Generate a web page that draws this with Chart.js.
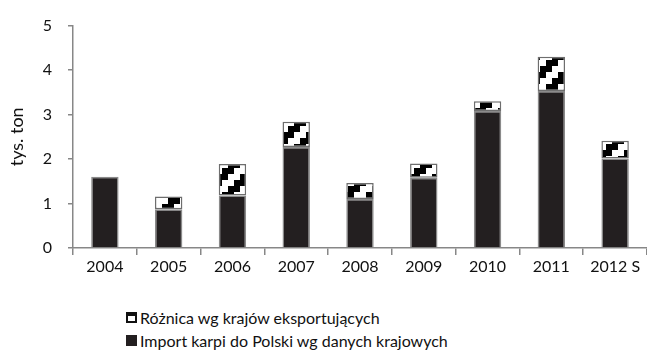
<!DOCTYPE html>
<html>
<head>
<meta charset="utf-8">
<script src="https://cdn.jsdelivr.net/npm/chart.js@4"></script>
<style>
  html, body { margin: 0; padding: 0; background: #fff; }
  body { width: 647px; height: 353px; overflow: hidden; font-family: Lato, "Open Sans", sans-serif; }
  #wrap { position: relative; width: 647px; height: 292px; }
  #legend { position: absolute; left: 126px; top: 306px; font-size: 16px; color: #111; line-height: 23px; }
  .item { display: flex; align-items: center; white-space: nowrap; }
  .box { width: 11px; height: 11px; box-sizing: border-box; margin-right: 3px; }
  .box.diff { border: 2px solid #111; border-top-width: 4px; background: #fff; }
  .box.imp { background: #231f20; }
</style>
</head>
<body>
<div id="wrap"><canvas id="c" width="647" height="292"></canvas></div>
<div id="legend">
  <div class="item"><span class="box diff"></span><span id="lab0"></span></div>
  <div class="item"><span class="box imp"></span><span id="lab1"></span></div>
</div>
<script>
// Years on the category axis
const years = ['2004', '2005', '2006', '2007', '2008', '2009', '2010', '2011', '2012 S'];
// Carp imports to Poland according to national data (thousand tonnes)
const importValues = [1.60, 0.87, 1.18, 2.27, 1.10, 1.58, 3.08, 3.53, 2.01];
// Extra amount reported by the exporting countries (thousand tonnes)
const diffValues = [null, 0.29, 0.71, 0.57, 0.36, 0.32, 0.22, 0.77, 0.40];
const seriesNames = ['Różnica wg krajów eksportujących', 'Import karpi do Polski wg danych krajowych'];
const yTicks = [0, 1, 2, 3, 4, 5];

document.getElementById('lab0').textContent = seriesNames[0];
document.getElementById('lab1').textContent = seriesNames[1];

// Black/white staircase fill for the difference segment
function stairPattern() {
  const s = 24, step = 6;
  const t = document.createElement('canvas');
  t.width = s; t.height = s;
  const g = t.getContext('2d');
  g.fillStyle = '#fff';
  g.fillRect(0, 0, s, s);
  g.fillStyle = '#000';
  for (let r = 0; r < s / step; r++) {
    const x0 = ((step - step * r) % s + s) % s;
    for (let k = -1; k <= 1; k++) {
      g.fillRect(x0 + k * s, r * step, s / 2, step);
    }
  }
  return g.createPattern(t, 'repeat');
}

const axisColor = '#878787';
const font = { family: 'Lato, "Open Sans", sans-serif', size: 16 };

new Chart(document.getElementById('c'), {
  type: 'bar',
  data: {
    labels: years,
    datasets: [
      {
        label: seriesNames[1],
        data: importValues,
        backgroundColor: '#231f20',
        borderColor: '#8a8a8a',
        borderWidth: 1.5,
        borderSkipped: 'bottom',
        barPercentage: 0.43,
        categoryPercentage: 1
      },
      {
        label: seriesNames[0],
        data: diffValues,
        backgroundColor: stairPattern(),
        borderColor: '#6e6e6e',
        borderWidth: 1.5,
        borderSkipped: false,
        barPercentage: 0.43,
        categoryPercentage: 1
      }
    ]
  },
  options: {
    responsive: false,
    animation: false,
    layout: { padding: { top: 24, right: 0, left: 0, bottom: 0 } },
    plugins: { legend: { display: false }, tooltip: { enabled: false } },
    scales: {
      x: {
        stacked: true,
        grid: { display: true, offset: true, drawOnChartArea: false, color: axisColor, lineWidth: 1.5, tickLength: 7 },
        border: { color: axisColor, width: 1.5 },
        ticks: { color: '#111', font: font, padding: 2, maxRotation: 0 },
        afterFit: s => { s.height = 44; }
      },
      y: {
        stacked: true,
        min: 0, max: 5,
        afterBuildTicks: s => { s.ticks = yTicks.map(v => ({ value: v })); },
        grid: { display: true, drawOnChartArea: false, color: axisColor, lineWidth: 1.5, tickLength: 5 },
        border: { color: axisColor, width: 1.5 },
        ticks: { color: '#111', font: font, padding: 16 },
        title: { display: true, text: 'tys. ton', color: '#111', font: { family: font.family, size: 18 }, padding: { top: 6, bottom: 0 } },
        afterFit: s => { s.width = 73; }
      }
    }
  }
});
</script>
</body>
</html>
